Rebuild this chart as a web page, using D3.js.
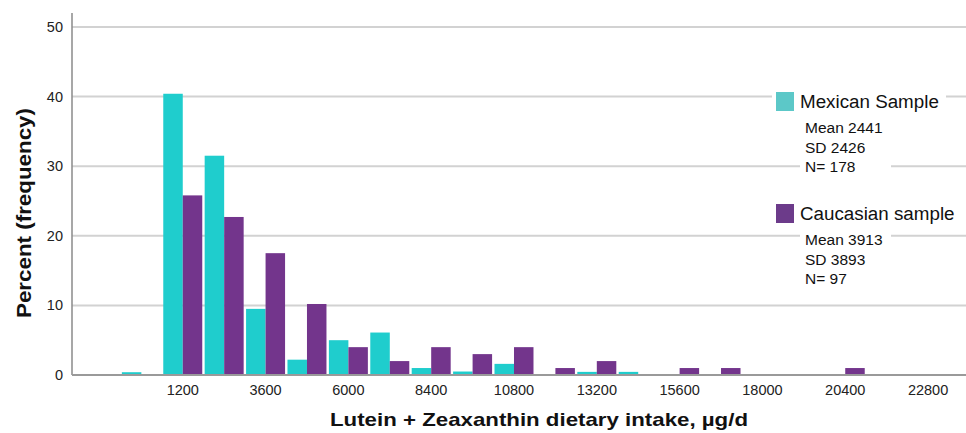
<!DOCTYPE html>
<html>
<head>
<meta charset="utf-8">
<script src="https://cdn.jsdelivr.net/npm/d3@7"></script>
<style>
  body { margin: 0; background: #fff; }
  svg { display: block; font-family: 'Liberation Sans', Arial, sans-serif; }
</style>
</head>
<body>
<svg id="container"></svg>
<script>
// bin centres, µg/d (bin width 1200)
const binCenters = [0, 1200, 2400, 3600, 4800, 6000, 7200, 8400, 9600, 10800, 12000, 13200, 14400, 15600, 16800, 18000, 19200, 20400, 21600, 22800]
// percent of each sample in the bin
const mexican = [0.4, 40.4, 31.5, 9.5, 2.2, 5.0, 6.1, 1.0, 0.5, 1.6, 0, 0.45, 0.45, 0, 0, 0, 0, 0, 0, 0]
const caucasian = [0, 25.8, 22.7, 17.5, 10.2, 4.0, 2.0, 4.0, 3.0, 4.0, 1.0, 2.0, 0, 1.0, 1.0, 0, 0, 1.0, 0, 0]
const xTicks = [1200, 3600, 6000, 8400, 10800, 13200, 15600, 18000, 20400, 22800]
const yTicks = [0, 10, 20, 30, 40, 50]

const series = [
  { name: 'Mexican Sample', values: mexican, color: '#1fcdcd', key: '#5cc8c8', stats: ['Mean 2441', 'SD 2426', 'N= 178'] },
  { name: 'Caucasian sample', values: caucasian, color: '#73358c', key: '#6c3b8a', stats: ['Mean 3913', 'SD 3893', 'N= 97'] }
]

const width = 966
const height = 433
const margin = { top: 13, right: 0, bottom: 58, left: 72 }

const svg = d3.select('#container').attr('width', width).attr('height', height)

const x = d3.scaleLinear().domain([-2010, 23900]).range([margin.left, width - margin.right])
const y = d3.scaleLinear().domain([0, 52]).range([height - margin.bottom, margin.top])

// grid lines
svg.append('g')
  .selectAll('line')
  .data(yTicks.filter(d => d > 0))
  .join('line')
  .attr('x1', margin.left)
  .attr('x2', width)
  .attr('y1', d => y(d))
  .attr('y2', d => y(d))
  .attr('stroke', '#d2d2d2')
  .attr('stroke-width', 2)

// bars: mexican left of centre, caucasian right of centre
const half = 565
const bars = svg.append('g')
series.forEach((s, si) => {
  bars.append('g')
    .selectAll('rect')
    .data(binCenters.map((c, i) => ({ c, v: s.values[i] })).filter(d => d.v > 0))
    .join('rect')
    .attr('x', d => si === 0 ? x(d.c - half) : x(d.c))
    .attr('width', x(half) - x(0))
    .attr('y', d => y(d.v))
    .attr('height', d => y(0) - y(d.v))
    .attr('fill', s.color)
})

// axes lines
svg.append('line')
  .attr('x1', margin.left).attr('x2', margin.left)
  .attr('y1', margin.top).attr('y2', y(0))
  .attr('stroke', '#8a8a8a').attr('stroke-width', 1.5)
svg.append('line')
  .attr('x1', margin.left).attr('x2', width)
  .attr('y1', y(0)).attr('y2', y(0))
  .attr('stroke', '#9a9a9a').attr('stroke-width', 2)

// y tick labels
svg.append('g')
  .selectAll('text')
  .data(yTicks)
  .join('text')
  .attr('x', 63)
  .attr('y', d => y(d) + 5)
  .attr('text-anchor', 'end')
  .style('font-size', '14.5px')
  .attr('fill', '#222')
  .text(d => d)

// x tick labels
svg.append('g')
  .selectAll('text')
  .data(xTicks)
  .join('text')
  .attr('x', d => x(d))
  .attr('y', 395)
  .attr('text-anchor', 'middle')
  .style('font-size', '14.5px')
  .attr('fill', '#222')
  .text(d => d)

// axis titles
svg.append('text')
  .attr('transform', 'translate(31,213) rotate(-90)')
  .attr('text-anchor', 'middle')
  .attr('textLength', 210)
  .attr('lengthAdjust', 'spacingAndGlyphs')
  .style('font-size', '19.5px')
  .style('font-weight', 'bold')
  .attr('fill', '#111')
  .text('Percent (frequency)')

svg.append('text')
  .attr('x', 539)
  .attr('y', 426)
  .attr('text-anchor', 'middle')
  .attr('textLength', 418)
  .attr('lengthAdjust', 'spacingAndGlyphs')
  .style('font-size', '19px')
  .style('font-weight', 'bold')
  .attr('fill', '#111')
  .text('Lutein + Zeaxanthin dietary intake, µg/d')

// legend with white boxes over the grid
const legendTop = [92, 204]
series.forEach((s, si) => {
  const g = svg.append('g').attr('transform', `translate(0,${legendTop[si]})`)
  g.append('rect').attr('x', 772).attr('y', -4).attr('width', 174).attr('height', 26).attr('fill', '#fff')
  g.append('rect').attr('x', 800).attr('y', 24).attr('width', 91).attr('height', 62).attr('fill', '#fff')
  g.append('rect').attr('x', 776).attr('y', 0).attr('width', 18).attr('height', 19).attr('fill', s.key)
  g.append('text').attr('x', 800).attr('y', 16)
    .style('font-size', '18.8px').attr('fill', '#111').text(s.name)
  g.selectAll('text.stat')
    .data(s.stats)
    .join('text')
    .attr('class', 'stat')
    .attr('x', 805)
    .attr('y', (d, i) => 41 + i * 19.5)
    .style('font-size', '15.5px')
    .attr('fill', '#111')
    .text(d => d)
})
</script>
</body>
</html>
